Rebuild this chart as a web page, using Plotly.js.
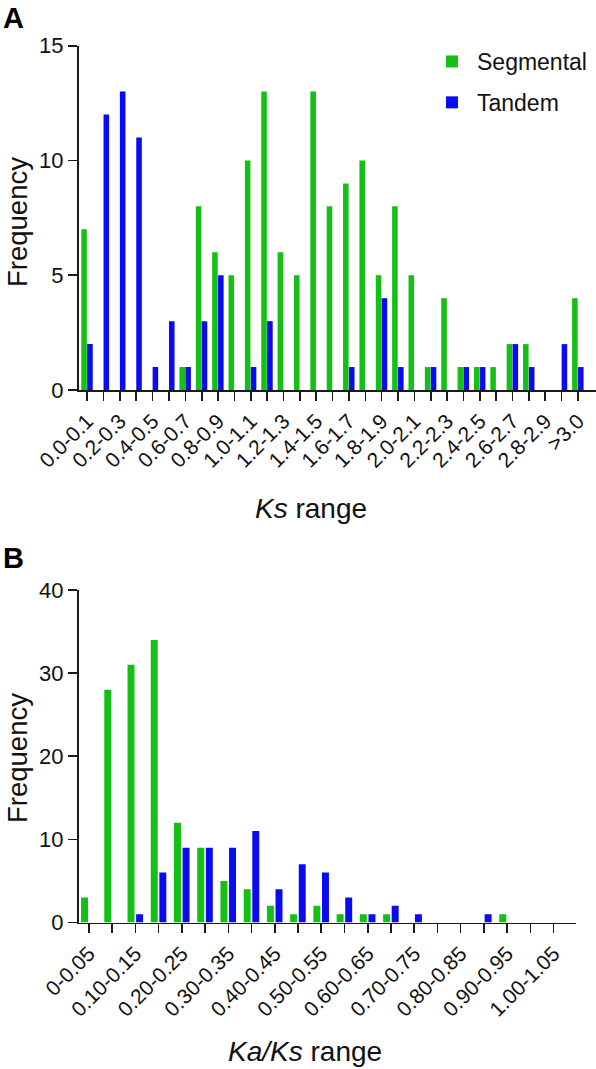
<!DOCTYPE html>
<html>
<head>
<meta charset="utf-8">
<script src="https://cdn.plot.ly/plotly-3.0.1.min.js"></script>
<style>
  html, body { margin: 0; padding: 0; background: #ffffff; }
  #chart { width: 596px; height: 1069px; }
</style>
</head>
<body>
<div id="chart"></div>
<script>
// ---------- Panel A: Ks distribution ----------
const ksCategories = ["0.0-0.1","0.1-0.2","0.2-0.3","0.3-0.4","0.4-0.5","0.5-0.6","0.6-0.7","0.7-0.8","0.8-0.9","0.9-1.0",
  "1.0-1.1","1.1-1.2","1.2-1.3","1.3-1.4","1.4-1.5","1.5-1.6","1.6-1.7","1.7-1.8","1.8-1.9","1.9-2.0",
  "2.0-2.1","2.1-2.2","2.2-2.3","2.3-2.4","2.4-2.5","2.5-2.6","2.6-2.7","2.7-2.8","2.8-2.9","2.9-3.0",">3.0"];
const ksSegmental = [7,0,0,0,0,0,1,8,6,5,10,13,6,5,13,8,9,10,5,8,5,1,4,1,1,1,2,2,0,0,4];
const ksTandem    = [2,12,13,11,1,3,1,3,5,0,1,3,0,0,0,0,1,0,4,1,0,1,0,1,1,0,2,1,0,2,1];
const ksTickLabels = ["0.0-0.1","","0.2-0.3","","0.4-0.5","","0.6-0.7","","0.8-0.9","",
  "1.0-1.1","","1.2-1.3","","1.4-1.5","","1.6-1.7","","1.8-1.9","",
  "2.0-2.1","","2.2-2.3","","2.4-2.5","","2.6-2.7","","2.8-2.9","",">3.0"];

// ---------- Panel B: Ka/Ks distribution ----------
const kaksCategories = ["0-0.05","0.05-0.10","0.10-0.15","0.15-0.20","0.20-0.25","0.25-0.30","0.30-0.35","0.35-0.40",
  "0.40-0.45","0.45-0.50","0.50-0.55","0.55-0.60","0.60-0.65","0.65-0.70","0.70-0.75","0.75-0.80",
  "0.80-0.85","0.85-0.90","0.90-0.95","0.95-1.00","1.00-1.05"];
const kaksSegmental = [3,28,31,34,12,9,5,4,2,1,2,1,1,1,0,0,0,0,1,0,0];
const kaksTandem    = [0,0,1,6,9,9,9,11,4,7,6,3,1,2,1,0,0,1,0,0,0];
const kaksTickLabels = ["0-0.05","","0.10-0.15","","0.20-0.25","","0.30-0.35","",
  "0.40-0.45","","0.50-0.55","","0.60-0.65","","0.70-0.75","",
  "0.80-0.85","","0.90-0.95","","1.00-1.05"];

const seriesNames = ["Segmental", "Tandem"];

const GREEN = "#14c014";
const BLUE  = "#0b0bf2";
const W = 596, H = 1069;
const px = v => v / W;          // horizontal pixel -> paper
const py = v => 1 - v / H;      // vertical pixel -> paper
const FONT = "Liberation Sans, Arial, Helvetica, sans-serif";
const AXC = "#1a1a1a";

const traces = [
  { type: "bar", name: seriesNames[0], x: ksCategories, y: ksSegmental, xaxis: "x", yaxis: "y",
    marker: { color: GREEN, line: { width: 0 } }, width: 0.34, offset: -0.36,
    legendgroup: "g1", hoverinfo: "x+y+name" },
  { type: "bar", name: seriesNames[1], x: ksCategories, y: ksTandem, xaxis: "x", yaxis: "y",
    marker: { color: BLUE, line: { width: 0 } }, width: 0.34, offset: 0.0,
    legendgroup: "g2", hoverinfo: "x+y+name" },
  { type: "bar", name: seriesNames[0], x: kaksCategories, y: kaksSegmental, xaxis: "x2", yaxis: "y2",
    marker: { color: GREEN, line: { width: 0 } }, width: 0.30, offset: -0.34,
    showlegend: false, legendgroup: "g1" },
  { type: "bar", name: seriesNames[1], x: kaksCategories, y: kaksTandem, xaxis: "x2", yaxis: "y2",
    marker: { color: BLUE, line: { width: 0 } }, width: 0.30, offset: 0.03,
    showlegend: false, legendgroup: "g2" }
];

const commonX = {
  type: "category", showgrid: false, zeroline: false,
  showline: true, linecolor: AXC, linewidth: 1.6,
  ticks: "outside", ticklen: 9, tickwidth: 1.6, tickcolor: AXC,
  tickangle: -45, tickfont: { family: FONT, size: 21, color: "#111" },
  fixedrange: true
};
const commonY = {
  showgrid: false, zeroline: false,
  showline: true, linecolor: AXC, linewidth: 1.6,
  ticks: "outside", ticklen: 9, tickwidth: 1.6, tickcolor: AXC,
  tickfont: { family: FONT, size: 22, color: "#111" },
  fixedrange: true
};

const layout = {
  width: W, height: H,
  margin: { l: 0, r: 0, t: 0, b: 0, pad: 0 },
  paper_bgcolor: "#ffffff", plot_bgcolor: "#ffffff",
  font: { family: FONT, color: "#111" },
  barmode: "overlay",
  showlegend: true,
  legend: {
    x: px(427), y: py(40), xanchor: "left", yanchor: "top",
    font: { family: FONT, size: 23, color: "#111" },
    bgcolor: "rgba(0,0,0,0)", borderwidth: 0,
    traceorder: "grouped", tracegroupgap: 8, itemwidth: 40
  },
  xaxis: Object.assign({}, commonX, {
    domain: [px(78.5), 1], anchor: "y", range: [-0.53, 31.1],
    tickmode: "array", tickvals: ksCategories, ticktext: ksTickLabels
  }),
  yaxis: Object.assign({}, commonY, {
    domain: [py(390), py(45.7)], anchor: "x", range: [0, 15], tickmode: "linear", tick0: 0, dtick: 5
  }),
  xaxis2: Object.assign({}, commonX, {
    domain: [px(78.5), px(575.7)], anchor: "y2", range: [-0.45, 20.95],
    tickmode: "array", tickvals: kaksCategories, ticktext: kaksTickLabels
  }),
  yaxis2: Object.assign({}, commonY, {
    domain: [py(922.5), py(590)], anchor: "x2", range: [0, 40], tickmode: "linear", tick0: 0, dtick: 10
  }),
  annotations: [
    { text: "<b>A</b>", xref: "paper", yref: "paper", x: px(1), y: py(0), xanchor: "left", yanchor: "top",
      showarrow: false, font: { family: FONT, size: 29, color: "#000" } },
    { text: "<b>B</b>", xref: "paper", yref: "paper", x: px(1), y: py(540), xanchor: "left", yanchor: "top",
      showarrow: false, font: { family: FONT, size: 29, color: "#000" } },
    { text: "Frequency", xref: "paper", yref: "paper", x: px(17), y: py(222), xanchor: "center", yanchor: "middle",
      textangle: -90, showarrow: false, font: { family: FONT, size: 27.5, color: "#111" } },
    { text: "Frequency", xref: "paper", yref: "paper", x: px(17), y: py(758), xanchor: "center", yanchor: "middle",
      textangle: -90, showarrow: false, font: { family: FONT, size: 27.5, color: "#111" } },
    { text: "<i>Ks</i> range", xref: "paper", yref: "paper", x: px(310.5), y: py(508), xanchor: "center", yanchor: "middle",
      showarrow: false, font: { family: FONT, size: 28, color: "#111" } },
    { text: "<i>Ka/Ks</i> range", xref: "paper", yref: "paper", x: px(305), y: py(1051), xanchor: "center", yanchor: "middle",
      showarrow: false, font: { family: FONT, size: 28, color: "#111" } }
  ]
};

Plotly.newPlot("chart", traces, layout, { displayModeBar: false, staticPlot: true });
</script>
</body>
</html>
